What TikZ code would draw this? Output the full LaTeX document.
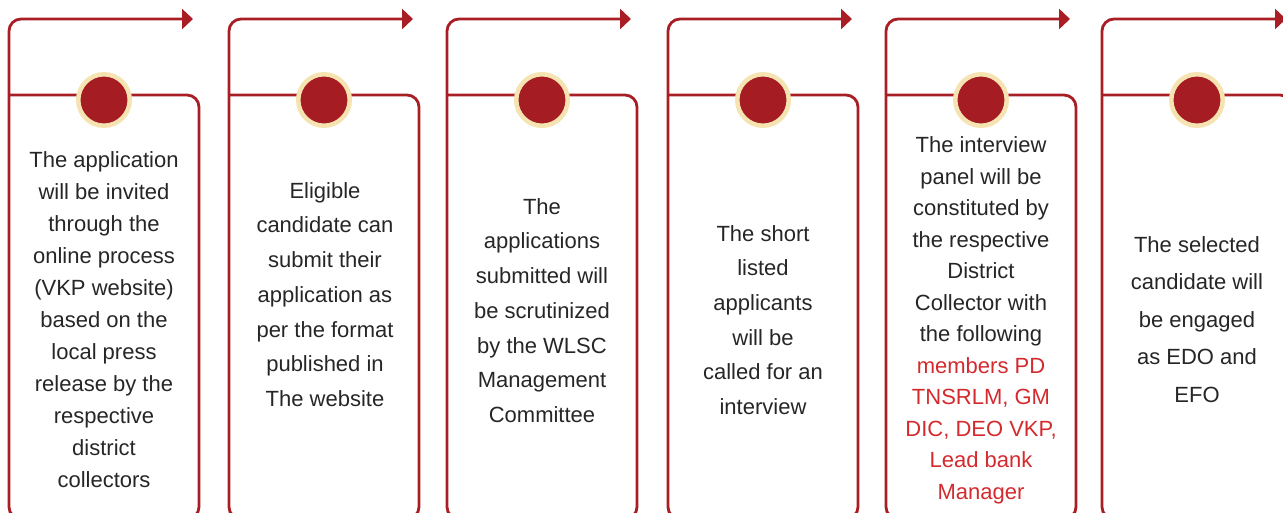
\documentclass[tikz,border=0pt]{standalone}
\usepackage{fontspec}
\setmainfont{Liberation Sans}
\usetikzlibrary{arrows.meta}
\definecolor{linered}{HTML}{A81E24}
\definecolor{dotred}{HTML}{A51D23}
\definecolor{ringcol}{HTML}{F5E3B2}
\definecolor{txtcol}{HTML}{262626}
\definecolor{hired}{HTML}{D42A2E}
\begin{document}
\begin{tikzpicture}[x=1pt,y=-1pt,
  conn/.style={draw=linered, line width=2.8pt, rounded corners=12pt},
  arr/.style={-{Triangle[length=11pt,width=20pt]}},
  dotnode/.style={circle, fill=dotred, draw=ringcol, line width=4.5pt, minimum size=51.5pt, inner sep=0pt},
  txtnode/.style={align=center, inner sep=0pt, text=txtcol}]
\useasboundingbox (0,0) rectangle (1283,512);
\clip (0,0) rectangle (1283,512);
\foreach \L/\i in {9/1,229/2,447/3,668/4,886/5,1102/6}{
  \coordinate (bb\i) at (\L+14,519);
  \coordinate (bc\i) at (\L,519);
  \coordinate (tc\i) at (\L,19);
  \coordinate (tip\i) at (\L+184,19);
  \draw[conn,arr] (bb\i) -- (bc\i) -- (tc\i) -- (tip\i);
  \coordinate (ba\i) at (\L,95);
  \coordinate (bd\i) at (\L+190,95);
  \coordinate (be\i) at (\L+190,519);
  \coordinate (bf\i) at (\L+172,519);
  \draw[conn] (ba\i) -- (bd\i) -- (be\i) -- (bf\i);
  \node[dotnode] (dot\i) at (\L+95,100) {};
}
\node[txtnode, font=\fontsize{22}{32}\selectfont] (t1) at (104,319.5)
 {The application\\will be invited\\through the\\online process\\(VKP website)\\based on the\\local press\\release by the\\respective\\district\\collectors};
\node[txtnode, font=\fontsize{22}{34.7}\selectfont] (t2) at (325,294.5)
 {Eligible\\candidate can\\submit their\\application as\\per the format\\published in\\The website};
\node[txtnode, font=\fontsize{22}{34.7}\selectfont] (t3) at (542,310.5)
 {The\\applications\\submitted will\\be scrutinized\\by the WLSC\\Management\\Committee};
\node[txtnode, font=\fontsize{22}{34.6}\selectfont] (t4) at (763,320)
 {The short\\listed\\applicants\\will be\\called for an\\interview};
\node[txtnode, font=\fontsize{22}{31.5}\selectfont] (t5) at (981,320.5)
 {The interview\\panel will be\\constituted by\\the respective\\District\\Collector with\\the following\\\textcolor{hired}{members PD}\\\textcolor{hired}{TNSRLM, GM}\\\textcolor{hired}{DIC, DEO VKP,}\\\textcolor{hired}{Lead bank}\\\textcolor{hired}{Manager}};
\node[txtnode, font=\fontsize{22}{37.5}\selectfont] (t6) at (1197,319.5)
 {The selected\\candidate will\\be engaged\\as EDO and\\EFO};
\end{tikzpicture}
\end{document}
